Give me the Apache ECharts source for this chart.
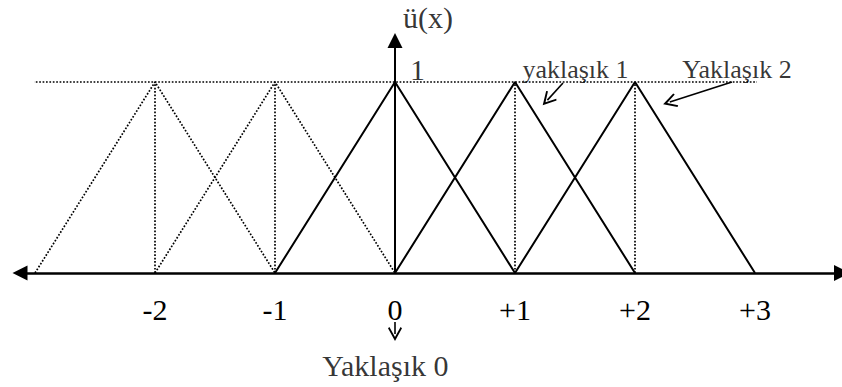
<!DOCTYPE html>
<html>
<head>
<meta charset="utf-8">
<script src="https://cdn.jsdelivr.net/npm/echarts@6/dist/echarts.min.js"></script>
<style>
  html, body { margin: 0; padding: 0; background: #fff; }
  #chart { width: 842px; height: 387px; }
</style>
</head>
<body>
<div id="chart"></div>
<script>
// tick values on the x axis
const tickValues = [-2, -1, 0, 1, 2, 3];
// triangle membership functions (peak at center, feet at center +/- 1)
const dottedCenters = [-2, -1];
const solidCenters = [0, 1, 2];
const guideXs = [-2, -1, 1, 2];
const peakValue = 1;
// axes / helper lines extents (data units)
const xAxisSpan = [-3.125, 3.725];
const yAxisSpan = [0, 1.217];
const peakLineSpan = [-3.22, 3.73];
// texts and where they sit
const titleText = ['ü(x)'];
const titleAt = [[0.275, 1.34]];
const peakText = ['1'];
const peakAt = [[0.1875, 1.063]];
const calloutTexts = ['yaklaşık 1', 'Yaklaşık 2'];
const calloutAt = [[1.504, 1.068], [2.85, 1.068]];
const calloutArrows = [
  [[1.4, 0.995], [1.27, 0.905]],
  [[2.808, 1.0], [2.29, 0.895]]
];
const bottomText = ['Yaklaşık 0'];
const bottomAt = [[-0.08, -0.482]];
const bottomArrow = [[[0, -0.257], [0, -0.32]]];

const FONT = "'Liberation Serif', 'Times New Roman', serif";
const chevron = 'path://M5,0 L10,9.2 L9,10 L5,3 L1,10 L0,9.2 Z';

const chart = echarts.init(document.getElementById('chart'), null, { renderer: 'svg' });

function triangle(c) {
  return [[c - 1, 0], [c, peakValue], [c + 1, 0]];
}

function lineSeries(data, style) {
  return {
    type: 'line', data, symbol: 'none', clip: false, silent: true,
    lineStyle: Object.assign({ color: '#000' }, style)
  };
}

function textSeries(texts, pos, size) {
  return {
    type: 'scatter', symbolSize: 0, silent: true, clip: false,
    data: texts.map((t, i) => ({ name: t, value: pos[i] })),
    label: {
      show: true, position: 'inside', formatter: '{b}',
      color: '#000', fontSize: size, fontFamily: FONT
    }
  };
}

const dotted = { width: 1.7, type: [1.7, 1.7] };
const series = [];

series.push(lineSeries(peakLineSpan.map(x => [x, peakValue]), dotted));
dottedCenters.forEach(c => series.push(lineSeries(triangle(c), dotted)));
guideXs.forEach(x => series.push(lineSeries([[x, 0], [x, peakValue]], dotted)));
solidCenters.forEach(c => series.push(lineSeries(triangle(c), { width: 2 })));

// x axis with filled arrow heads at both ends
series.push({
  type: 'lines', coordinateSystem: 'cartesian2d', clip: false, silent: true,
  symbol: ['triangle', 'triangle'], symbolSize: [15, 16],
  lineStyle: { color: '#000', width: 2.5, opacity: 1 },
  data: [{ coords: xAxisSpan.map(x => [x, 0]) }]
});
// y axis
series.push({
  type: 'lines', coordinateSystem: 'cartesian2d', clip: false, silent: true,
  symbol: ['none', 'triangle'], symbolSize: [12, 15],
  lineStyle: { color: '#000', width: 2, opacity: 1 },
  data: [{ coords: yAxisSpan.map(y => [0, y]) }]
});
// pointer arrows with open heads
series.push({
  type: 'lines', coordinateSystem: 'cartesian2d', clip: false, silent: true,
  symbol: ['none', chevron], symbolSize: [18, 14],
  lineStyle: { color: '#000', width: 1.6, opacity: 1 },
  itemStyle: { color: '#000' },
  data: calloutArrows.concat(bottomArrow).map(c => ({ coords: c }))
});

series.push(textSeries(titleText, titleAt, 30));
series.push(textSeries(peakText, peakAt, 30));
series.push(textSeries(calloutTexts, calloutAt, 26));
series.push(textSeries(bottomText, bottomAt, 30));

chart.setOption({
  animation: false,
  backgroundColor: '#fff',
  grid: { left: 35, right: 87, top: 82, bottom: 114 },
  xAxis: {
    type: 'value', min: -3, max: 3, interval: 1,
    axisLine: { show: false }, axisTick: { show: false }, splitLine: { show: false },
    axisLabel: {
      color: '#000', fontSize: 30, fontFamily: FONT, margin: 21,
      formatter: v => tickValues.indexOf(v) < 0 ? '' : (v > 0 ? '+' + v : String(v))
    }
  },
  yAxis: { type: 'value', min: 0, max: 1, show: false },
  series
});
</script>
</body>
</html>
